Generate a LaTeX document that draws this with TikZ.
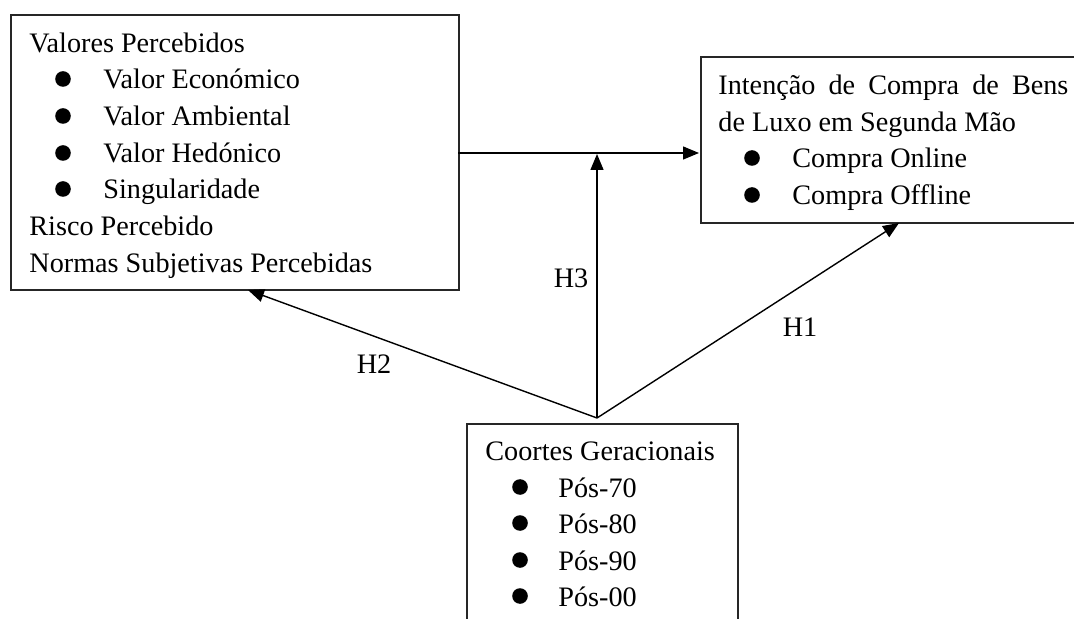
\documentclass[tikz,border=0pt]{standalone}
\usepackage{fontspec}
\setmainfont{Liberation Serif}
\usetikzlibrary{arrows.meta}
\begin{document}
\begin{tikzpicture}[x=0.5pt,y=-0.5pt,
  boxst/.style={draw=black!85, line width=1pt, inner sep=0pt, anchor=north west},
  txt/.style={anchor=base west, inner sep=0pt, font=\fontsize{14.1pt}{18pt}\selectfont},
  lbl/.style={inner sep=0pt, font=\fontsize{14.1pt}{18pt}\selectfont},
  bul/.style={fill=black, circle, inner sep=0pt, minimum size=7.8pt},
  arr/.style={line width=0.7pt, -{Triangle[length=8pt,width=6.5pt]}}]
\useasboundingbox (0,0) rectangle (1074,619);
\clip (0,0) rectangle (1074,619);
% boxes
\node[boxst, minimum width=224pt, minimum height=137.5pt] (vp) at (10,14) {};
\node[boxst, minimum width=195pt, minimum height=83pt] (ic) at (700,56) {};
\node[boxst, minimum width=135.5pt, minimum height=110pt] (cg) at (466,423) {};
% box 1 text
\node[txt] (t1) at (29,53) {Valores Percebidos};
\node[bul] (b1) at (63,79) {};
\node[txt] (t2) at (103,89) {Valor Económico};
\node[bul] (b2) at (63,116) {};
\node[txt] (t3) at (103,126) {Valor Ambiental};
\node[bul] (b3) at (63,153) {};
\node[txt] (t4) at (103,163) {Valor Hedónico};
\node[bul] (b4) at (63,189) {};
\node[txt] (t5) at (103,199) {Singularidade};
\node[txt] (t6) at (29,236) {Risco Percebido};
\node[txt] (t7) at (29,273) {Normas Subjetivas Percebidas};
% box 2 text
\node[txt] (u1) at (718,95) {\makebox[175pt][s]{Intenção de Compra de Bens}};
\node[txt] (u2) at (718,132) {de Luxo em Segunda Mão};
\node[bul] (c1) at (752,158) {};
\node[txt] (u3) at (792,168) {Compra Online};
\node[bul] (c2) at (752,195) {};
\node[txt] (u4) at (792,205) {Compra Offline};
% box 3 text
\node[txt] (w1) at (485,460) {Coortes Geracionais};
\node[bul] (d1) at (520,487) {};
\node[txt] (w2) at (558,497) {Pós-70};
\node[bul] (d2) at (520,523) {};
\node[txt] (w3) at (558,533) {Pós-80};
\node[bul] (d3) at (520,560) {};
\node[txt] (w4) at (558,570) {Pós-90};
\node[bul] (d4) at (520,596) {};
\node[txt] (w5) at (558,606) {Pós-00};
% connectors
\coordinate (src) at (597,418);
\coordinate (h1t) at (899,223);
\coordinate (h2t) at (248,290);
\coordinate (h3t) at (597,154);
\coordinate (hs) at (458,153);
\coordinate (he) at (699,153);
\draw[arr] (hs) -- (he);
\draw[arr] (src) -- (h3t);
\draw[arr] (src) -- (h2t);
\draw[arr] (src) -- (h1t);
% labels
\node[lbl] (l3) at (571,278) {H3};
\node[lbl] (l2) at (374,364) {H2};
\node[lbl] (l1) at (800,327) {H1};
\end{tikzpicture}
\end{document}
